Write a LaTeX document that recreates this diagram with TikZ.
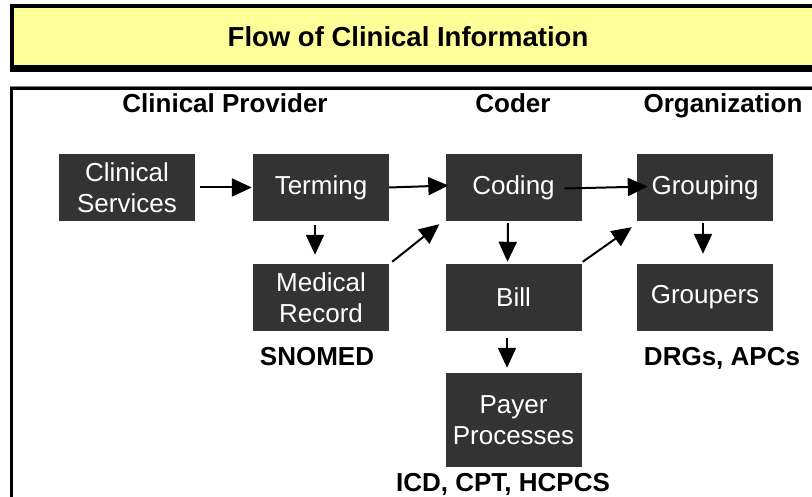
\documentclass[tikz,border=0pt]{standalone}
\usepackage{fontspec}
\setmainfont{Liberation Sans}
\usetikzlibrary{arrows.meta}
\definecolor{titleyellow}{RGB}{255,255,153}
\definecolor{boxgray}{RGB}{51,51,51}
\tikzset{
  procbox/.style={fill=boxgray, text=white, align=center, inner sep=0pt,
    minimum width=136pt, minimum height=67pt,
    font=\fontsize{26}{31}\selectfont},
  headlabel/.style={anchor=base, inner sep=0pt, font=\bfseries\fontsize{26}{31}\selectfont},
  flowarrow/.style={line width=2pt, -{Triangle[length=20pt,width=18pt]}}
}
\begin{document}
\begin{tikzpicture}[x=1pt,y=1pt]
\useasboundingbox (0,0) rectangle (812,-497);
% title box
\fill[titleyellow] (12,-6) rectangle (830,-69);
\draw[line width=4pt] (12,-6) rectangle (830,-69);
\fill[black] (10,-65) rectangle (830,-72);
\node[font=\bfseries\fontsize{27.5}{33}\selectfont, inner sep=0pt] (title) at (408,-37) {Flow of Clinical Information};
% main frame
\draw[gray, line width=1pt] (10,-86.5) -- (830,-86.5);
\draw[line width=3pt] (11.5,-520) -- (11.5,-88.5) -- (830,-88.5);
% headings
\node[headlabel] (hprov) at (225,-113) {Clinical Provider};
\node[headlabel] (hcoder) at (513,-113) {Coder};
\node[headlabel] (horg) at (723,-113) {Organization};
% boxes
\node[procbox] (cs) at (127,-187.5) {Clinical\\Services};
\node[procbox] (term) at (321,-187.5) {Terming};
\node[procbox] (cod) at (513.5,-187.5) {Coding};
\node[procbox] (grp) at (705,-187.5) {Grouping};
\node[procbox] (mr) at (321,-297.5) {Medical\\Record};
\node[procbox] (bill) at (513.5,-297.5) {Bill};
\node[procbox] (gps) at (705,-297.5) {Groupers};
\node[procbox, minimum height=94pt] (pay) at (513.5,-420) {Payer\\Processes};
% bottom labels
\node[headlabel] (snomed) at (317,-365) {SNOMED};
\node[headlabel] (drg) at (722,-365) {DRGs, APCs};
\node[headlabel] (icd) at (503,-491) {ICD, CPT, HCPCS};
% arrows
\draw[flowarrow] ([xshift=5pt]cs.east) -- ([xshift=-1pt]term.west);
\draw[flowarrow] (term.east) -- ([xshift=3pt,yshift=2pt]cod.west);
\draw[flowarrow] ([xshift=-17pt,yshift=-1pt]cod.east) -- ([xshift=11pt,yshift=1pt]grp.west);
\draw[flowarrow] ([xshift=-6pt,yshift=-4pt]term.south) -- ([xshift=-6pt,yshift=9pt]mr.north);
\draw[flowarrow] ([xshift=3pt,yshift=2pt]mr.north east) -- ([xshift=-6pt,yshift=-3pt]cod.south west);
\draw[flowarrow] ([xshift=-5.5pt,yshift=-2pt]cod.south) -- ([xshift=-6pt,yshift=2pt]bill.north);
\draw[flowarrow] ([xshift=1pt,yshift=2pt]bill.north east) -- ([xshift=-5pt,yshift=-6pt]grp.south west);
\draw[flowarrow] ([xshift=-2pt,yshift=-2pt]grp.south) -- ([xshift=-2pt,yshift=10pt]gps.north);
\draw[flowarrow] ([xshift=-6.5pt,yshift=-7pt]bill.south) -- ([xshift=-6.5pt,yshift=5pt]pay.north);
\end{tikzpicture}
\end{document}
